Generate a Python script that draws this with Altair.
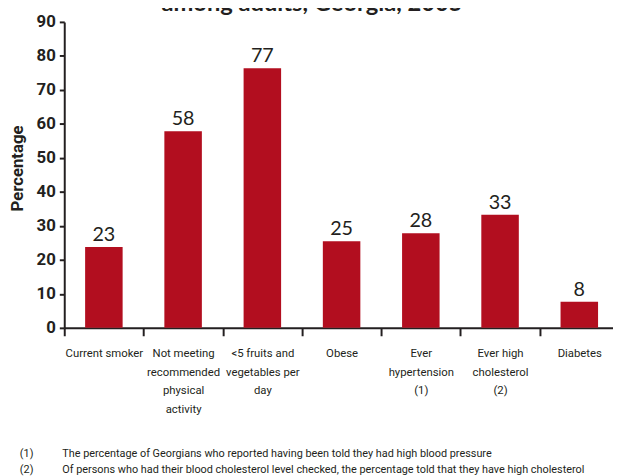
import altair as alt
import pandas as pd

# ---- data ----
categories = [
    "Current smoker",
    "Not meeting|recommended|physical|activity",
    "<5 fruits and|vegetables per|day",
    "Obese",
    "Ever|hypertension|(1)",
    "Ever high|cholesterol|(2)",
    "Diabetes",
]
values = [23.8, 57.8, 76.4, 25.5, 27.8, 33.3, 7.7]
value_labels = ["23", "58", "77", "25", "28", "33", "8"]
y_ticks = [0, 10, 20, 30, 40, 50, 60, 70, 80, 90]
title_text = "among adults, Georgia, 2005"
footnote_marks = ["(1)", "(2)"]
footnote_texts = [
    "The percentage of Georgians who reported having been told they had high blood pressure",
    "Of persons who had their blood cholesterol level checked, the percentage told that they have high cholesterol",
]
y_title = "Percentage"

RED = "#B20E1F"
INK = "#231F20"
NARROW = "Roboto, Liberation Sans, sans-serif"
HUMAN = "Lato, Open Sans, sans-serif"

df = pd.DataFrame({"cat": categories, "val": values, "lab": value_labels})

x = alt.X(
    "cat:N",
    sort=categories,
    scale=alt.Scale(range=[0, 562], paddingInner=0, paddingOuter=0),
    axis=alt.Axis(
        title=None,
        labelAngle=0,
        labelExpr="split(datum.label, '|')",
        labelFont=NARROW,
        labelFontSize=11.5,
        labelColor=INK,
        labelLineHeight=19,
        labelPadding=12,
        labelBaseline="top",
        labelOverlap=False,
        tickBand="extent",
        tickSize=8,
        tickWidth=2,
        tickColor=INK,
        domainColor=INK,
        domainWidth=2,
        grid=False,
    ),
)
y = alt.Y(
    "val:Q",
    scale=alt.Scale(domain=[0, 90], nice=False),
    axis=alt.Axis(
        title=y_title,
        titleFont=NARROW,
        titleFontSize=17,
        titleFontWeight="bold",
        titleColor=INK,
        titleAngle=-90,
        titleAlign="center",
        titleBaseline="middle",
        titleX=-47,
        titleY=148,
        values=y_ticks,
        labelOverlap=False,
        labelFlush=False,
        labelFont=NARROW,
        labelFontSize=17,
        labelFontWeight="bold",
        labelColor=INK,
        labelPadding=4,
        tickSize=5,
        tickWidth=2,
        tickColor=INK,
        domainColor=INK,
        domainWidth=2,
        grid=False,
    ),
)

bars = alt.Chart(df).mark_bar(color=RED, width=38).encode(x=x, y=y)
labels = alt.Chart(df).mark_text(
    baseline="alphabetic", dy=-6, fontSize=20, font=HUMAN, color=INK
).encode(x=x, y=y, text="lab:N")

title_df = pd.DataFrame({"t": [title_text]})
title = alt.Chart(title_df).mark_text(
    fontSize=24, fontWeight="bold", font=HUMAN, color=INK, align="center",
    baseline="alphabetic",
).encode(text="t:N", x=alt.value(251), y=alt.value(-11))

notes = []
for i, (m, t) in enumerate(zip(footnote_marks, footnote_texts)):
    ndf = pd.DataFrame({"m": [m], "t": [t]})
    ypos = 437.5 + i * 17
    notes.append(
        alt.Chart(ndf).mark_text(font=NARROW, fontSize=11, color=INK, align="left",
                                 baseline="middle").encode(text="m:N", x=alt.value(-45), y=alt.value(ypos))
    )
    notes.append(
        alt.Chart(ndf).mark_text(font=NARROW, fontSize=11, color=INK, align="left",
                                 baseline="middle").encode(text="t:N", x=alt.value(-2), y=alt.value(ypos))
    )

chart = alt.layer(bars, labels, title, *notes).properties(
    width=556,
    height=310,
    autosize=alt.AutoSizeParams(type="none"),
    padding={"left": 57, "top": 11, "right": 0, "bottom": 147},
    background="white",
).configure_view(stroke=None)

chart.save("out.html", embed_options={"renderer": "svg", "actions": False})
